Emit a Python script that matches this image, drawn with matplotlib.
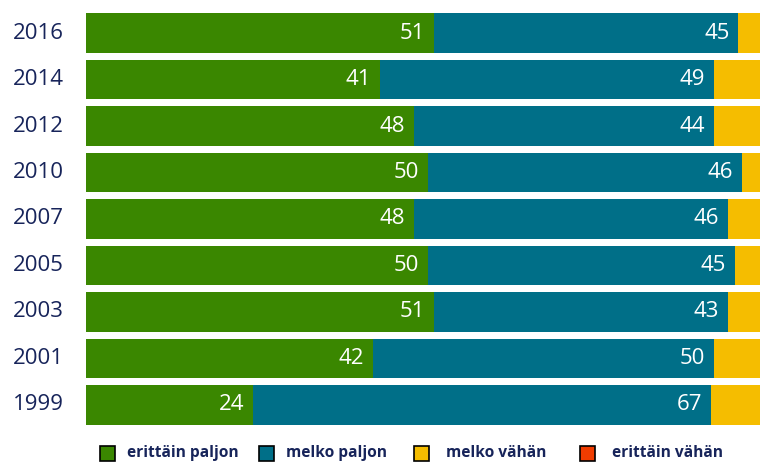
import matplotlib.pyplot as plt
from matplotlib.patches import Rectangle

years = ["2016", "2014", "2012", "2010", "2007", "2005", "2003", "2001", "1999"]
# bar lengths
erittain_paljon = [51, 43, 48, 50, 48, 50, 51, 42, 24.5]
melko_paljon = [44.5, 49, 44, 46, 46, 45, 43, 50, 67]
melko_vahan = [3.5, 7, 7, 3, 5, 4, 5, 7, 7.5]
erittain_vahan = [1, 1, 1, 1, 1, 1, 1, 1, 1]
# printed numbers
labels_ep = ["51", "41", "48", "50", "48", "50", "51", "42", "24"]
labels_mp = ["45", "49", "44", "46", "46", "45", "43", "50", "67"]

legend_names = ["erittäin paljon", "melko paljon", "melko vähän", "erittäin vähän"]
colors = ["#3a8700", "#006f88", "#f5bd00", "#f03c00"]
navy = "#17245a"

plt.rcParams['font.family'] = ['Open Sans', 'DejaVu Sans']

fig = plt.figure(figsize=(7.6, 4.62), dpi=100)
ax = fig.add_axes([86 / 760, 32 / 462, 683 / 760, 430 / 462])

pos = list(range(len(years)))
left = [0] * len(years)
for vals, col in zip([erittain_paljon, melko_paljon, melko_vahan, erittain_vahan], colors):
    ax.barh(pos, vals, left=left, height=0.84, color=col, edgecolor="none")
    left = [a + b for a, b in zip(left, vals)]

for i in pos:
    ax.text(erittain_paljon[i] - 1.3, i, labels_ep[i], color="white", fontsize=16,
            ha="right", va="center")
    ax.text(erittain_paljon[i] + melko_paljon[i] - 1.3, i, labels_mp[i], color="white",
            fontsize=16, ha="right", va="center")
    ax.text(-3.3, i, years[i], color=navy, fontsize=16, ha="right", va="center",
            clip_on=False)

ax.set_xlim(0, 100)
ax.set_ylim(8.538, -0.710)
ax.axis("off")

# legend drawn by hand
sq_x = [100, 259, 414, 580]
txt_x = [127, 286, 446, 612]
for sx, tx, name, col in zip(sq_x, txt_x, legend_names, colors):
    fig.add_artist(Rectangle((sx / 760, (462 - 461) / 462), 15 / 760, 15 / 462,
                             transform=fig.transFigure, facecolor=col,
                             edgecolor="black", linewidth=1.2))
    fig.text(tx / 760, (462 - 453) / 462, name, color=navy, fontsize=11.2,
             fontweight="bold", ha="left", va="center")

fig.savefig("out.png", dpi=100)
